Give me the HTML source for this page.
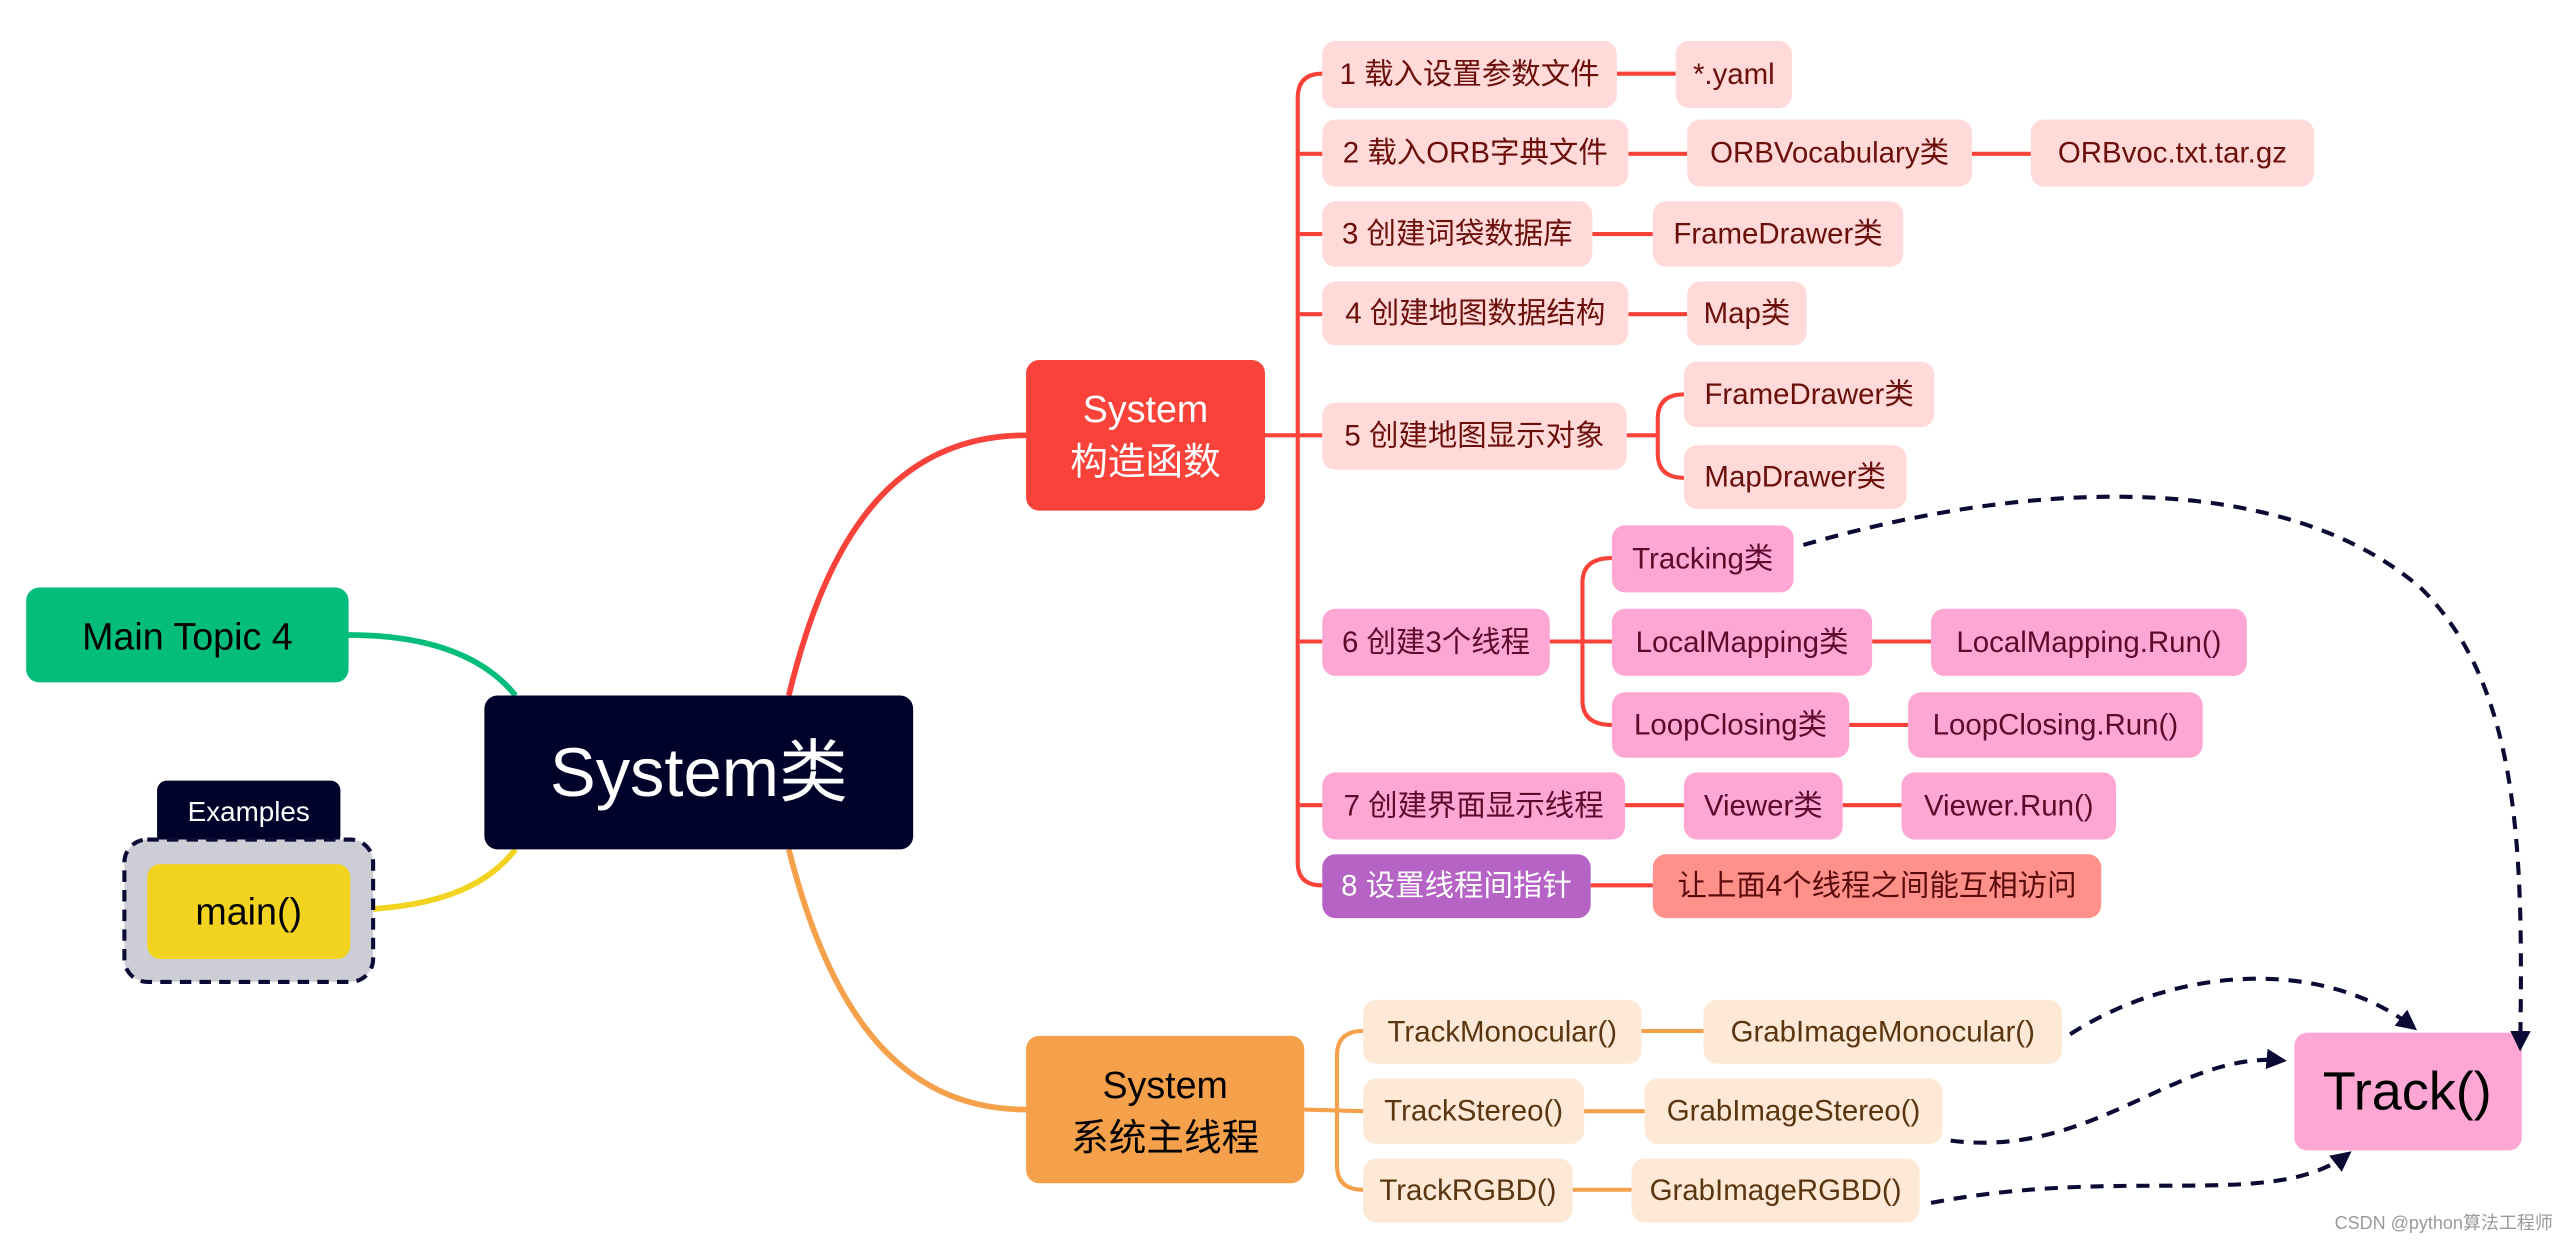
<!DOCTYPE html>
<html><head><meta charset="utf-8"><style>
html,body{margin:0;padding:0;background:#fff;}
svg{display:block;}
text{font-family:"Liberation Sans","Noto Sans CJK SC",sans-serif;}
</style></head><body>
<svg width="2566" height="1248" viewBox="0 0 1568 762.6" preserveAspectRatio="none" xmlns="http://www.w3.org/2000/svg">
<defs>
<marker id="ah" viewBox="0 0 10 10" refX="8" refY="5" markerWidth="5" markerHeight="5" orient="auto-start-reverse">
<path d="M0,0 L10,5 L0,10 z" fill="#0A0A35"/></marker>
</defs>
<g fill="none" stroke-width="3.5">
<path d="M482,425 C505,330 545,266 627,266" stroke="#F9423A"/>
<path d="M482,519 C505,610 545,678 627,678" stroke="#F5A04B"/>
<path d="M213,388 C260,388 295,400 315,425" stroke="#05BD7A"/>
<path d="M214,556 C260,555 295,545 315,519" stroke="#F2D31F"/>
</g>
<g fill="none" stroke="#F9423A" stroke-width="2.5">
<path d="M773,266 L808,266"/>
<path d="M808,45 Q793,45 793,60 L793,527 Q793,541 808,541"/>
<path d="M793,94 L808,94 M793,143 L808,143 M793,192 L808,192 M793,392 L808,392 M793,492 L808,492"/>
<path d="M988,45 L1024,45 M995,94 L1031,94 M1205,94 L1241,94 M973,143 L1010,143 M995,192 L1031,192"/>
<path d="M994,266 L1013,266 M1029,241 Q1013,241 1013,256 L1013,277 Q1013,292 1029,292"/>
<path d="M947,392 L985,392 M985,341 Q967,341 967,356 L967,428 Q967,443 985,443"/>
<path d="M1144,392 L1180,392 M1130,443 L1166,443"/>
<path d="M993,492 L1029,492 M1126,492 L1162,492 M972,541 L1010,541"/>
</g>
<g fill="none" stroke="#F5A04B" stroke-width="2.5">
<path d="M797,678 L833,679"/>
<path d="M833,630 Q817,630 817,645 L817,712 Q817,727 833,727"/>
<path d="M1003,630 L1041,630 M968,679 L1005,679 M961,727 L997,727"/>
</g>
<rect x="16" y="359" width="197" height="58" rx="8" fill="#05BD7A"/>
<text x="114.5" y="389" font-size="23" text-anchor="middle" dominant-baseline="central" fill="#000">Main Topic 4</text>
<rect x="296" y="425" width="262" height="94" rx="8" fill="#000229"/>
<text x="427" y="472" font-size="42" text-anchor="middle" dominant-baseline="central" fill="#fff">System类</text>
<rect x="96" y="477" width="112" height="40" rx="6" fill="#000229"/>
<text x="152" y="496" font-size="17" text-anchor="middle" dominant-baseline="central" fill="#fff">Examples</text>
<rect x="76" y="513" width="152" height="87" rx="14" fill="#CDCDD5" stroke="#0A0A35" stroke-width="2.5" stroke-dasharray="7 5"/>
<rect x="90" y="528" width="124" height="58" rx="8" fill="#F2D31F"/>
<text x="152" y="557" font-size="23" text-anchor="middle" dominant-baseline="central" fill="#000">main()</text>
<rect x="627" y="220" width="146" height="92" rx="8" fill="#F9423A"/>
<text x="700" y="250" font-size="23" text-anchor="middle" dominant-baseline="central" fill="#fff">System</text>
<text x="700" y="282" font-size="23" text-anchor="middle" dominant-baseline="central" fill="#fff">构造函数</text>
<rect x="627" y="633" width="170" height="90" rx="8" fill="#F5A04B"/>
<text x="712" y="663" font-size="23" text-anchor="middle" dominant-baseline="central" fill="#000">System</text>
<text x="712" y="695" font-size="23" text-anchor="middle" dominant-baseline="central" fill="#000">系统主线程</text>
<rect x="1402" y="631" width="139" height="72" rx="8" fill="#FEA7D5"/>
<text x="1471" y="667" font-size="33" text-anchor="middle" dominant-baseline="central" fill="#000">Track()</text>
<g font-size="18" text-anchor="middle" dominant-baseline="central">
<g>
<rect x="808" y="25" width="180" height="41" rx="8" fill="#FFDAD8"/><text x="898" y="45.5" fill="#6B0F0A">1 载入设置参数文件</text>
<rect x="1024" y="25" width="71" height="41" rx="8" fill="#FFDAD8"/><text x="1059.5" y="45.5" fill="#6B0F0A">*.yaml</text>
<rect x="808" y="73" width="187" height="41" rx="8" fill="#FFDAD8"/><text x="901.5" y="93.5" fill="#6B0F0A">2 载入ORB字典文件</text>
<rect x="1031" y="73" width="174" height="41" rx="8" fill="#FFDAD8"/><text x="1118" y="93.5" fill="#6B0F0A">ORBVocabulary类</text>
<rect x="1241" y="73" width="173" height="41" rx="8" fill="#FFDAD8"/><text x="1327.5" y="93.5" fill="#6B0F0A">ORBvoc.txt.tar.gz</text>
<rect x="808" y="123" width="165" height="40" rx="8" fill="#FFDAD8"/><text x="890.5" y="143" fill="#6B0F0A">3 创建词袋数据库</text>
<rect x="1010" y="123" width="153" height="40" rx="8" fill="#FFDAD8"/><text x="1086.5" y="143" fill="#6B0F0A">FrameDrawer类</text>
<rect x="808" y="172" width="187" height="39" rx="8" fill="#FFDAD8"/><text x="901.5" y="191.5" fill="#6B0F0A">4 创建地图数据结构</text>
<rect x="1031" y="172" width="73" height="39" rx="8" fill="#FFDAD8"/><text x="1067.5" y="191.5" fill="#6B0F0A">Map类</text>
<rect x="808" y="246" width="186" height="41" rx="8" fill="#FFDAD8"/><text x="901" y="266.5" fill="#6B0F0A">5 创建地图显示对象</text>
<rect x="1029" y="221" width="153" height="40" rx="8" fill="#FFDAD8"/><text x="1105.5" y="241" fill="#6B0F0A">FrameDrawer类</text>
<rect x="1029" y="272" width="136" height="39" rx="8" fill="#FFDAD8"/><text x="1097" y="291.5" fill="#6B0F0A">MapDrawer类</text>
</g>
<g>
<rect x="808" y="372" width="139" height="41" rx="8" fill="#FEA7D5"/><text x="877.5" y="392.5" fill="#5A0A2A">6 创建3个线程</text>
<rect x="985" y="321" width="111" height="41" rx="8" fill="#FEA7D5"/><text x="1040.5" y="341.5" fill="#5A0A2A">Tracking类</text>
<rect x="985" y="372" width="159" height="41" rx="8" fill="#FEA7D5"/><text x="1064.5" y="392.5" fill="#5A0A2A">LocalMapping类</text>
<rect x="1180" y="372" width="193" height="41" rx="8" fill="#FEA7D5"/><text x="1276.5" y="392.5" fill="#5A0A2A">LocalMapping.Run()</text>
<rect x="985" y="423" width="145" height="40" rx="8" fill="#FEA7D5"/><text x="1057.5" y="443" fill="#5A0A2A">LoopClosing类</text>
<rect x="1166" y="423" width="180" height="40" rx="8" fill="#FEA7D5"/><text x="1256" y="443" fill="#5A0A2A">LoopClosing.Run()</text>
<rect x="808" y="472" width="185" height="41" rx="8" fill="#FEA7D5"/><text x="900.5" y="492.5" fill="#5A0A2A">7 创建界面显示线程</text>
<rect x="1029" y="472" width="97" height="41" rx="8" fill="#FEA7D5"/><text x="1077.5" y="492.5" fill="#5A0A2A">Viewer类</text>
<rect x="1162" y="472" width="131" height="41" rx="8" fill="#FEA7D5"/><text x="1227.5" y="492.5" fill="#5A0A2A">Viewer.Run()</text>
<rect x="808" y="522" width="164" height="39" rx="8" fill="#B563C5"/><text x="890" y="541.5" fill="#fff">8 设置线程间指针</text>
<rect x="1010" y="522" width="274" height="39" rx="8" fill="#FF918A"/><text x="1147" y="541.5" fill="#5A0A0A">让上面4个线程之间能互相访问</text>
</g>
<g fill="#5A3510">
<rect x="833" y="611" width="170" height="39" rx="8" fill="#FDE9D6"/><text x="918" y="630.5">TrackMonocular()</text>
<rect x="1041" y="611" width="219" height="39" rx="8" fill="#FDE9D6"/><text x="1150.5" y="630.5">GrabImageMonocular()</text>
<rect x="833" y="659" width="135" height="40" rx="8" fill="#FDE9D6"/><text x="900.5" y="679">TrackStereo()</text>
<rect x="1005" y="659" width="182" height="40" rx="8" fill="#FDE9D6"/><text x="1096" y="679">GrabImageStereo()</text>
<rect x="833" y="708" width="128" height="39" rx="8" fill="#FDE9D6"/><text x="897" y="727.5">TrackRGBD()</text>
<rect x="997" y="708" width="176" height="39" rx="8" fill="#FDE9D6"/><text x="1085" y="727.5">GrabImageRGBD()</text>
</g>
</g>
<g fill="none" stroke="#0A0A35" stroke-width="2.5" stroke-dasharray="8 6" marker-end="url(#ah)">
<path d="M1102,333 C1250,290 1400,290 1480,360 C1540,420 1542,520 1540,640"/>
<path d="M1265,632 C1330,590 1420,585 1475,628"/>
<path d="M1192,697 C1280,708 1330,642 1395,648"/>
<path d="M1180,735 C1300,712 1390,740 1435,705"/>
</g>
<text x="1560" y="751" font-size="11" text-anchor="end" fill="#999">CSDN @python算法工程师</text>
</svg>
</body></html>
